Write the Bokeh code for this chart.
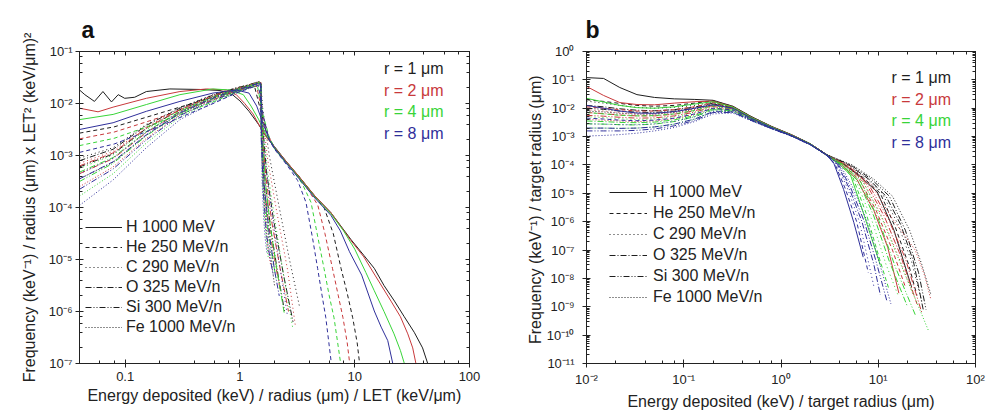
from bokeh.plotting import figure
from bokeh.models import (LogAxis, LogTicker, FixedTicker, CustomJSTickFormatter, Range1d,
                          Legend, LegendItem, Label)
from bokeh.layouts import row
from bokeh.embed import file_html
from bokeh.resources import INLINE

FONT = "Liberation Sans"

RADIUS_LABELS = ["r = 1 \u03bcm", "r = 2 \u03bcm", "r = 4 \u03bcm", "r = 8 \u03bcm"]
RADIUS_COLORS = ["#1e1e1e", "#c8393b", "#38d438", "#2f2f9a"]
IONS = ["H 1000 MeV", "He 250 MeV/n", "C 290 MeV/n", "O 325 MeV/n",
        "Si 300 MeV/n", "Fe 1000 MeV/n"]
ION_DASHES = ["solid", "4 3", "1 3", "6 2 1 2", "6 2 1 2 1 2", "1 2"]

# decade ticks of panel b's y axis
B_Y_DECADES = [1e-11, 1e-10, 1e-9, 1e-8, 1e-7, 1e-6, 1e-5, 1e-4, 1e-3, 1e-2, 1e-1, 1e0]

# ---------------- panel a (values are log10 of frequency) ----------------
A_H_X = [
    [0.040, 0.0445, 0.054, 0.064, 0.076, 0.087, 0.099, 0.121, 0.153, 0.245, 0.447, 0.67, 0.86, 1.0, 1.2, 1.45, 1.63, 2.0, 2.5, 3.2, 4.5, 6.2, 9.3, 12, 14.8, 18, 22.2, 27, 33, 39, 44],
    [0.040, 0.058, 0.0785, 0.153, 0.30, 0.51, 0.76, 0.93, 1.1, 1.3, 1.5, 1.7, 2.0, 2.5, 3.2, 4.5, 6.2, 9.3, 12, 15, 20.7, 25, 29, 32, 34.5],
    [0.040, 0.0785, 0.153, 0.30, 0.58, 0.82, 1.07, 1.25, 1.45, 1.7, 2.0, 2.5, 3.2, 4.5, 6.2, 8, 10, 12.5, 14.8, 18, 22, 25, 27.5],
    [0.040, 0.0785, 0.153, 0.30, 0.58, 0.93, 1.2, 1.4, 1.6, 1.8, 2.0, 2.5, 3.2, 4.5, 6.2, 7.5, 9, 11.5, 14.8, 17, 19.4, 21.7],
]
A_H_LOGY = [
    [-1.74, -1.83, -1.96, -1.77, -1.97, -1.83, -1.90, -1.88, -1.77, -1.72, -1.73, -1.75, -1.83, -1.95, -2.15, -2.4, -2.58, -2.83, -3.1, -3.38, -3.78, -4.1, -4.62, -4.92, -5.17, -5.5, -5.8, -6.1, -6.4, -6.7, -7.05],
    [-2.09, -2.16, -2.07, -1.90, -1.77, -1.72, -1.74, -1.83, -2.0, -2.2, -2.45, -2.65, -2.84, -3.1, -3.38, -3.78, -4.1, -4.64, -4.95, -5.3, -5.8, -6.1, -6.43, -6.7, -7.05],
    [-2.31, -2.21, -2.02, -1.83, -1.72, -1.74, -1.83, -2.05, -2.3, -2.62, -2.85, -3.12, -3.4, -3.8, -4.12, -4.45, -4.8, -5.25, -5.6, -6.0, -6.43, -6.75, -7.05],
    [-2.50, -2.37, -2.15, -1.96, -1.80, -1.74, -1.80, -2.05, -2.4, -2.7, -2.86, -3.13, -3.42, -3.82, -4.15, -4.45, -4.85, -5.3, -5.99, -6.3, -6.56, -7.05],
]
A_HE_X = [
    [0.04, 0.08, 0.15, 0.3, 0.6, 0.9, 1.2, 1.35, 1.5, 1.7, 2.0, 2.4, 3.2, 4.5, 5.4, 6.5, 7.6, 8.6, 9.6, 10.5, 11.1],
    [0.04, 0.08, 0.15, 0.3, 0.6, 0.9, 1.2, 1.4, 1.55, 1.75, 2.0, 2.4, 3.2, 3.9, 4.76, 5.5, 6.4, 7.2, 7.9, 8.6, 9.1],
    [0.04, 0.08, 0.15, 0.3, 0.6, 0.9, 1.2, 1.42, 1.58, 1.8, 2.0, 2.4, 3.0, 3.5, 4.16, 4.8, 5.4, 6.0, 6.6, 7.1, 7.6],
    [0.04, 0.08, 0.15, 0.3, 0.6, 0.9, 1.2, 1.45, 1.6, 1.8, 2.0, 2.4, 2.8, 3.18, 3.76, 4.3, 4.75, 5.2, 5.6, 5.95, 6.3],
]
A_HE_LOGY = [
    [-2.57, -2.45, -2.27, -2.07, -1.87, -1.74, -1.68, -1.70, -2.1, -2.55, -2.85, -3.08, -3.38, -3.8, -4.0, -4.5, -5.17, -5.65, -6.12, -6.6, -7.05],
    [-2.68, -2.55, -2.36, -2.14, -1.92, -1.77, -1.69, -1.67, -2.15, -2.6, -2.86, -3.08, -3.4, -3.65, -3.95, -4.5, -5.17, -5.7, -6.12, -6.6, -7.05],
    [-2.81, -2.67, -2.46, -2.21, -1.96, -1.79, -1.70, -1.66, -2.2, -2.65, -2.87, -3.09, -3.33, -3.55, -3.9, -4.6, -5.17, -5.7, -6.12, -6.6, -7.05],
    [-2.94, -2.78, -2.55, -2.27, -1.99, -1.81, -1.71, -1.65, -2.25, -2.7, -2.88, -3.1, -3.3, -3.48, -3.9, -4.6, -5.17, -5.7, -6.12, -6.6, -7.05],
]
# heavy ions: rising part on a shared x grid, then the sharp drop
A_RISE_X = [0.04, 0.0785, 0.153, 0.3, 0.58, 0.93, 1.2, 1.45]
A_C_RISE = [
    [-3.05, -2.85, -2.40, -2.08, -1.83, -1.70, -1.64, -1.58],
    [-3.15, -2.92, -2.45, -2.11, -1.85, -1.71, -1.65, -1.59],
    [-3.25, -2.99, -2.50, -2.13, -1.87, -1.72, -1.65, -1.59],
    [-3.35, -3.05, -2.55, -2.16, -1.88, -1.73, -1.66, -1.60],
]
A_O_RISE = [
    [-3.10, -2.88, -2.42, -2.09, -1.84, -1.70, -1.64, -1.58],
    [-3.20, -2.95, -2.47, -2.12, -1.86, -1.72, -1.65, -1.59],
    [-3.32, -3.04, -2.54, -2.15, -1.88, -1.73, -1.66, -1.60],
    [-3.45, -3.12, -2.60, -2.18, -1.90, -1.74, -1.67, -1.61],
]
A_SI_RISE = [
    [-3.22, -2.97, -2.48, -2.12, -1.86, -1.71, -1.65, -1.59],
    [-3.35, -3.06, -2.56, -2.16, -1.89, -1.73, -1.66, -1.60],
    [-3.50, -3.15, -2.62, -2.19, -1.91, -1.75, -1.67, -1.61],
    [-3.65, -3.26, -2.70, -2.23, -1.94, -1.77, -1.69, -1.62],
]
A_FE_RISE = [
    [-3.45, -3.13, -2.61, -2.19, -1.91, -1.75, -1.68, -1.62],
    [-3.60, -3.22, -2.67, -2.22, -1.93, -1.76, -1.69, -1.62],
    [-3.78, -3.35, -2.76, -2.26, -1.96, -1.78, -1.70, -1.63],
    [-3.96, -3.47, -2.85, -2.31, -1.99, -1.80, -1.71, -1.64],
]
A_C_DROP_X = [[1.52, 1.58, 1.8, 2.2, 2.7, 3.3], [1.52, 1.57, 1.75, 2.1, 2.6, 3.05],
              [1.52, 1.56, 1.72, 2.0, 2.4, 2.9], [1.52, 1.56, 1.7, 1.95, 2.25, 2.6]]
A_C_DROP_Y = [[-1.6, -2.1, -3.0, -4.0, -5.0, -5.9], [-1.6, -2.2, -3.1, -4.1, -5.2, -6.3],
              [-1.6, -2.2, -3.2, -4.2, -5.3, -6.35], [-1.61, -2.3, -3.3, -4.3, -5.2, -6.1]]
A_O_DROP_X = [[1.52, 1.56, 1.7, 1.95, 2.4, 2.9], [1.52, 1.55, 1.68, 1.9, 2.25, 2.65],
              [1.52, 1.55, 1.66, 1.85, 2.1, 2.44], [1.52, 1.54, 1.63, 1.8, 2.0, 2.2]]
A_O_DROP_Y = [[-1.6, -2.3, -3.3, -4.2, -5.3, -6.2], [-1.6, -2.4, -3.4, -4.3, -5.2, -6.0],
              [-1.61, -2.4, -3.5, -4.4, -5.2, -6.05], [-1.62, -2.5, -3.6, -4.5, -5.2, -5.7]]
A_SI_DROP_X = [[1.52, 1.55, 1.66, 1.85, 2.15, 2.45], [1.52, 1.54, 1.63, 1.8, 2.0, 2.25],
               [1.52, 1.54, 1.62, 1.75, 1.9, 2.06], [1.52, 1.53, 1.6, 1.7, 1.82, 1.95]]
A_SI_DROP_Y = [[-1.6, -2.4, -3.5, -4.4, -5.3, -6.0], [-1.61, -2.5, -3.6, -4.4, -5.0, -5.6],
               [-1.62, -2.5, -3.6, -4.4, -4.9, -5.36], [-1.63, -2.6, -3.7, -4.5, -4.95, -5.3]]
A_FE_DROP_X = [[1.52, 1.54, 1.62, 1.72, 1.85, 2.0], [1.52, 1.53, 1.6, 1.68, 1.76, 1.85],
               [1.52, 1.53, 1.58, 1.64, 1.7, 1.76], [1.52, 1.53, 1.56, 1.61, 1.66, 1.72]]
A_FE_DROP_Y = [[-1.62, -2.5, -3.5, -4.3, -4.9, -5.5], [-1.63, -2.6, -3.6, -4.3, -4.8, -5.1],
               [-1.64, -2.6, -3.5, -4.2, -4.6, -4.95], [-1.65, -2.6, -3.5, -4.2, -4.6, -4.88]]

# ---------------- panel b (values are log10 of frequency) ----------------
B_FRONT_X = [0.01, 0.015, 0.022, 0.033, 0.05, 0.08, 0.13, 0.2, 0.32, 0.5, 0.8, 1.3, 2.0]
B_H_FRONT = [
    [-0.92, -0.95, -1.27, -1.52, -1.62, -1.67, -1.69, -1.72, -1.93, -2.30, -2.64, -2.94, -3.25],
    [-1.23, -1.55, -1.80, -1.87, -1.88, -1.82, -1.77, -1.75, -1.95, -2.32, -2.65, -2.95, -3.26],
    [-1.65, -1.78, -1.90, -1.98, -2.00, -1.95, -1.85, -1.77, -1.96, -2.33, -2.66, -2.96, -3.26],
    [-1.90, -2.00, -2.10, -2.17, -2.18, -2.12, -2.00, -1.88, -2.00, -2.36, -2.68, -2.97, -3.27],
]
B_HE_FRONT = [
    [-1.70, -1.76, -1.83, -1.90, -1.93, -1.90, -1.82, -1.74, -1.94, -2.31, -2.65, -2.95, -3.26],
    [-1.95, -2.00, -2.05, -2.10, -2.10, -2.05, -1.95, -1.80, -1.97, -2.34, -2.67, -2.96, -3.27],
    [-2.15, -2.20, -2.25, -2.27, -2.26, -2.20, -2.08, -1.90, -2.02, -2.37, -2.68, -2.97, -3.27],
    [-2.35, -2.38, -2.42, -2.44, -2.42, -2.35, -2.20, -2.00, -2.06, -2.40, -2.70, -2.98, -3.28],
]
B_C_FRONT = [
    [-1.75, -1.82, -1.90, -1.97, -2.00, -1.97, -1.90, -1.78, -1.96, -2.32, -2.65, -2.95, -3.26],
    [-2.05, -2.10, -2.16, -2.20, -2.20, -2.14, -2.03, -1.86, -1.99, -2.35, -2.67, -2.96, -3.27],
    [-2.30, -2.33, -2.37, -2.40, -2.38, -2.30, -2.16, -1.95, -2.04, -2.38, -2.69, -2.98, -3.28],
    [-2.55, -2.56, -2.58, -2.58, -2.55, -2.46, -2.30, -2.06, -2.10, -2.42, -2.71, -2.99, -3.29],
]
B_O_FRONT = [
    [-1.90, -1.95, -2.02, -2.07, -2.09, -2.05, -1.96, -1.82, -1.97, -2.33, -2.66, -2.96, -3.26],
    [-2.15, -2.19, -2.24, -2.27, -2.27, -2.21, -2.09, -1.90, -2.01, -2.36, -2.68, -2.97, -3.27],
    [-2.45, -2.47, -2.50, -2.51, -2.49, -2.41, -2.26, -2.02, -2.07, -2.40, -2.70, -2.98, -3.28],
    [-2.70, -2.70, -2.71, -2.70, -2.66, -2.56, -2.38, -2.12, -2.13, -2.43, -2.72, -2.99, -3.29],
]
B_SI_FRONT = [
    [-2.00, -2.04, -2.10, -2.14, -2.15, -2.10, -2.00, -1.85, -1.98, -2.34, -2.66, -2.96, -3.26],
    [-2.25, -2.28, -2.32, -2.35, -2.34, -2.27, -2.14, -1.94, -2.03, -2.37, -2.68, -2.97, -3.27],
    [-2.55, -2.56, -2.58, -2.59, -2.56, -2.47, -2.30, -2.05, -2.09, -2.41, -2.70, -2.98, -3.28],
    [-2.80, -2.80, -2.80, -2.78, -2.73, -2.62, -2.43, -2.15, -2.15, -2.44, -2.72, -2.99, -3.29],
]
B_FE_FRONT = [
    [-2.10, -2.13, -2.18, -2.21, -2.21, -2.15, -2.04, -1.88, -2.00, -2.35, -2.67, -2.96, -3.26],
    [-2.40, -2.42, -2.45, -2.47, -2.45, -2.37, -2.22, -1.99, -2.06, -2.39, -2.69, -2.97, -3.27],
    [-2.70, -2.70, -2.71, -2.70, -2.66, -2.56, -2.38, -2.10, -2.12, -2.43, -2.71, -2.98, -3.28],
    [-2.98, -2.96, -2.93, -2.88, -2.80, -2.68, -2.47, -2.20, -2.17, -2.45, -2.73, -2.99, -3.29],
]
B_H_TAIL_X = [[3.0, 4.5, 6.5, 9.75, 14.5, 19, 22], [3.0, 4.2, 6.0, 9.0, 12.5, 16.3],
              [3.0, 4.0, 5.18, 7.0, 9.75, 10.5], [3.0, 3.5, 4.4, 5.6, 7.0]]
B_H_TAIL_Y = [[-3.66, -4.0, -4.4, -4.95, -6.3, -7.6, -8.3], [-3.68, -4.0, -4.5, -5.6, -6.9, -8.52],
              [-3.68, -3.98, -4.35, -5.67, -7.19, -7.53], [-3.68, -3.95, -4.86, -6.02, -7.25]]
B_HE_TAIL_X = [[3.0, 4.6, 7.0, 10.5, 15, 20.5, 25], [3.0, 4.4, 6.5, 9.5, 14, 19],
               [3.0, 4.0, 5.5, 7.5, 10.5, 12.8], [3.0, 3.6, 4.6, 6.0, 7.9]]
B_HE_TAIL_Y = [[-3.66, -4.0, -4.45, -5.0, -6.2, -7.5, -8.6], [-3.68, -4.0, -4.55, -5.6, -7.0, -8.3],
               [-3.68, -3.97, -4.45, -5.7, -7.4, -8.35], [-3.68, -3.98, -4.85, -6.0, -7.8]]
B_C_TAIL_X = [[3.0, 4.8, 7.5, 11, 16, 22, 28], [3.0, 4.6, 7.0, 10.5, 16, 23],
              [3.0, 4.2, 6.0, 8.5, 12, 16], [3.0, 3.7, 4.8, 6.4, 9.0]]
B_C_TAIL_Y = [[-3.65, -4.0, -4.45, -5.0, -6.1, -7.4, -8.8], [-3.67, -4.02, -4.6, -5.7, -7.2, -8.6],
              [-3.67, -3.98, -4.6, -5.9, -7.5, -8.6], [-3.67, -3.98, -4.8, -6.0, -8.27]]
B_O_TAIL_X = [[3.0, 5.0, 8.0, 12, 17, 23, 29], [3.0, 4.8, 7.5, 11.5, 17, 25],
              [3.0, 4.3, 6.3, 9.0, 13, 20], [3.0, 3.8, 5.0, 6.8, 9.0, 10.5]]
B_O_TAIL_Y = [[-3.65, -4.0, -4.5, -5.1, -6.1, -7.4, -9.1], [-3.67, -4.05, -4.65, -5.8, -7.2, -8.9],
              [-3.67, -4.0, -4.6, -5.8, -7.4, -9.0], [-3.66, -3.98, -4.8, -6.0, -7.5, -8.58]]
B_SI_TAIL_X = [[3.0, 5.2, 8.5, 13, 19, 26, 31], [3.0, 5.0, 8.0, 12.5, 19, 28],
               [3.0, 4.4, 6.6, 10, 15, 24], [3.0, 3.9, 5.2, 7.2, 9.5, 12.3]]
B_SI_TAIL_Y = [[-3.65, -4.0, -4.5, -5.1, -6.3, -7.8, -9.1], [-3.66, -4.05, -4.7, -5.85, -7.3, -9.2],
               [-3.66, -4.0, -4.6, -5.9, -7.6, -9.28], [-3.66, -3.98, -4.8, -6.0, -7.4, -8.81]]
B_FE_TAIL_X = [[3.0, 5.4, 9.0, 14, 21, 28, 35], [3.0, 5.2, 8.5, 14, 24, 30, 34.5],
               [3.0, 4.5, 7.0, 11, 18, 26, 33], [3.0, 4.0, 5.4, 7.6, 10, 13.5]]
B_FE_TAIL_Y = [[-3.65, -4.0, -4.5, -5.1, -6.3, -7.5, -8.6], [-3.66, -4.05, -4.7, -5.9, -7.0, -7.9, -8.7],
               [-3.66, -4.0, -4.6, -5.9, -7.7, -9.0, -9.86], [-3.65, -3.97, -4.75, -5.95, -7.3, -8.9]]


def curves_a():
    out = []  # out[ion][radius] = (x, logy)
    out.append([(A_H_X[r], A_H_LOGY[r]) for r in range(4)])
    out.append([(A_HE_X[r], A_HE_LOGY[r]) for r in range(4)])
    for rise, dx, dy in [(A_C_RISE, A_C_DROP_X, A_C_DROP_Y), (A_O_RISE, A_O_DROP_X, A_O_DROP_Y),
                         (A_SI_RISE, A_SI_DROP_X, A_SI_DROP_Y), (A_FE_RISE, A_FE_DROP_X, A_FE_DROP_Y)]:
        out.append([(A_RISE_X + dx[r], rise[r] + dy[r]) for r in range(4)])
    return out


def curves_b():
    out = []
    for front, tx, ty in [(B_H_FRONT, B_H_TAIL_X, B_H_TAIL_Y), (B_HE_FRONT, B_HE_TAIL_X, B_HE_TAIL_Y),
                          (B_C_FRONT, B_C_TAIL_X, B_C_TAIL_Y), (B_O_FRONT, B_O_TAIL_X, B_O_TAIL_Y),
                          (B_SI_FRONT, B_SI_TAIL_X, B_SI_TAIL_Y), (B_FE_FRONT, B_FE_TAIL_X, B_FE_TAIL_Y)]:
        out.append([(B_FRONT_X + tx[r], front[r] + ty[r]) for r in range(4)])
    return out


POW_CODE = r'''
const sup = {"-": "\u207b", "0": "\u2070", "1": "\u00b9", "2": "\u00b2", "3": "\u00b3",
             "4": "\u2074", "5": "\u2075", "6": "\u2076", "7": "\u2077", "8": "\u2078", "9": "\u2079"};
const e = Math.round(Math.log10(tick));
let s = "";
for (const c of String(e)) { s += sup[c]; }
return "10" + s;
'''
DEC_CODE = r'''
return tick >= 1 ? tick.toFixed(0) : tick.toFixed(1);
'''


def decade_ticker(decades):
    minors = [m * d for d in decades[:-1] for m in (2, 3, 4, 5, 6, 7, 8, 9)]
    return FixedTicker(ticks=decades, minor_ticks=minors)


def style_main_axis(ax, label, standoff_label, tick_standoff):
    ax.axis_label = label
    ax.axis_label_text_font = FONT
    ax.axis_label_text_font_size = "16px"
    ax.axis_label_text_font_style = "normal"
    ax.axis_label_text_color = "#222222"
    ax.axis_label_standoff = standoff_label
    ax.major_label_text_font = FONT
    ax.major_label_text_font_size = "13px"
    ax.major_label_text_color = "#222222"
    ax.major_label_standoff = tick_standoff
    ax.axis_line_color = "#222222"
    ax.major_tick_line_color = "#222222"
    ax.minor_tick_line_color = "#222222"
    ax.major_tick_in = 4
    ax.major_tick_out = 4
    ax.minor_tick_in = 3
    ax.minor_tick_out = 0


def mirror_axis(ticker):
    return LogAxis(ticker=ticker,
                   formatter=CustomJSTickFormatter(code="return '';"),
                   major_label_text_font_size="0px", major_label_standoff=0,
                   axis_line_color="#222222", major_tick_line_color="#222222",
                   minor_tick_line_color="#222222",
                   major_tick_in=4, major_tick_out=0, minor_tick_in=3, minor_tick_out=0)


def build(panel, curves, width, borders, xr, yr, yticker_fn, xfmt, xlabel, ylabel,
          legend_loc, glyph_w, label_standoff, leg_spacing, r_label_x, r_label_y,
          ylab_standoff, ytick_standoff, title_offset, title_standoff):
    left, right, top, bottom = borders
    p = figure(width=width, height=417, x_axis_type="log", y_axis_type="log",
               x_range=Range1d(*xr), y_range=Range1d(*yr), output_backend="svg",
               toolbar_location=None,
               min_border_left=left, min_border_right=right,
               min_border_top=top, min_border_bottom=bottom)
    p.background_fill_color = "white"
    p.border_fill_color = "white"
    p.outline_line_color = "#222222"
    p.xgrid.visible = False
    p.ygrid.visible = False

    p.xaxis.ticker = LogTicker(desired_num_ticks=10)
    p.yaxis.ticker = yticker_fn()
    p.xaxis.formatter = CustomJSTickFormatter(code=xfmt)
    p.yaxis.formatter = CustomJSTickFormatter(code=POW_CODE)
    style_main_axis(p.xaxis[0], xlabel, 3, 4)
    style_main_axis(p.yaxis[0], ylabel, ylab_standoff, ytick_standoff)

    # top mirror axis carries the panel letter as its (left aligned) label
    top_axis = mirror_axis(LogTicker(desired_num_ticks=10))
    placed = False
    try:
        top_axis.axis_label_align = "left"
        placed = True
    except Exception:
        placed = False
    if placed:
        top_axis.axis_label = panel
        top_axis.axis_label_text_font = FONT
        top_axis.axis_label_text_font_size = "23px"
        top_axis.axis_label_text_font_style = "bold"
        top_axis.axis_label_text_color = "#111111"
        top_axis.axis_label_standoff = title_standoff
    else:
        p.title.text = panel
        p.title.text_font = FONT
        p.title.text_font_size = "23px"
        p.title.text_font_style = "bold"
        p.title.align = "left"
        p.title.offset = title_offset
        p.title.standoff = 18
        p.title.text_color = "#111111"
    p.add_layout(top_axis, "above")
    p.add_layout(mirror_axis(yticker_fn()), "right")

    black = []
    for r in range(4):
        for i in range(6):
            x, ly = curves[i][r]
            y = [10.0 ** v for v in ly]
            rend = p.line(x, y, line_color=RADIUS_COLORS[r], line_width=1,
                          line_dash=ION_DASHES[i])
            if r == 0:
                black.append(rend)

    leg = Legend(items=[LegendItem(label=IONS[i], renderers=[black[i]]) for i in range(6)],
                 location=legend_loc, glyph_width=glyph_w, glyph_height=18,
                 label_height=18, label_standoff=label_standoff, spacing=leg_spacing,
                 padding=0, margin=0, border_line_alpha=0, background_fill_alpha=0,
                 label_text_font=FONT, label_text_font_size="16px",
                 label_text_color="#222222")
    p.add_layout(leg)

    for r in range(4):
        p.add_layout(Label(x=r_label_x, y=r_label_y[r], text=RADIUS_LABELS[r],
                           text_color=RADIUS_COLORS[r], text_font=FONT,
                           text_font_size="16px", text_baseline="middle",
                           text_align="left"))
    return p


pa = build("a", curves_a(), 497, (79, 28, 48, 54), (0.04, 100), (1e-7, 1e-1),
           lambda: LogTicker(desired_num_ticks=10), DEC_CODE,
           "Energy deposited (keV) / radius (\u03bcm) / LET (keV/\u03bcm)",
           "Frequency (keV\u207b\u00b9) / radius (\u03bcm) x LET\u00b2 (keV/\u03bcm)\u00b2",
           (6, 27), 37, 4, 2, 18.0, [4.74e-2, 1.81e-2, 6.9e-3, 2.62e-3], 7, 3, 2, 15)

pb = build("b", curves_b(), 492, (89, 14, 51, 51), (1e-2, 1e2), (1e-11, 1e0),
           lambda: decade_ticker(B_Y_DECADES), POW_CODE,
           "Energy deposited (keV) / target radius (\u03bcm)",
           "Frequency (keV\u207b\u00b9) /  target radius (\u03bcm)",
           (23, 57), 38, 6, 3, 13.7, [0.124, 0.0211, 3.6e-3, 6.1e-4], 0, 8, -1, 13)

layout = row(pa, pb)
open("out.html", "w").write(file_html(layout, INLINE))
